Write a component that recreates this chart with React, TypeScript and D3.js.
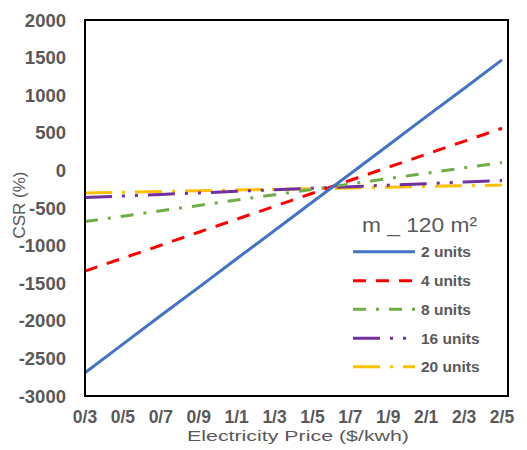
import React from "react";
import * as d3 from "d3";

// Electricity price categories (as labelled on the axis)
const priceLabels = ["0/3", "0/5", "0/7", "0/9", "1/1", "1/3", "1/5", "1/7", "1/9", "2/1", "2/3", "2/5"];

// CSR (%) for each number of units
const units2 = [-2690, -2310, -1930, -1555, -1175, -800, -420, -45, 335, 715, 1090, 1470];
const units4 = [-1340, -1167, -995, -822, -649, -477, -304, -131, 42, 214, 387, 560];
const units8 = [-680, -609, -537, -466, -394, -323, -252, -180, -109, -38, 34, 105];
const units16 = [-360, -340, -319, -299, -278, -258, -238, -217, -196, -176, -155, -135];
const units20 = [-300, -290, -281, -271, -262, -252, -243, -233, -224, -214, -205, -195];

const yTicks = [2000, 1500, 1000, 500, 0, -500, -1000, -1500, -2000, -2500, -3000];

const seriesNames = ["2 units", "4 units", "8 units", "16 units", "20 units"];
const seriesValues = [units2, units4, units8, units16, units20];
const seriesColors = ["#4472C4", "#FF0000", "#70AD47", "#7030A0", "#FFC000"];
const seriesDashes = ["", "13,10", "13,10,3,10", "27,10,3,10,3,10", "27,10,3,10"];

const W = 527;
const H = 450;
const plot = { left: 85, right: 508, top: 20, bottom: 396 };
const textColor = "#595959";
const font = "'Liberation Sans', Arial, sans-serif";

export default function App() {
  const x = d3.scalePoint<string>().domain(priceLabels).range([plot.left, 502]);
  const y = d3.scaleLinear().domain([-3000, 2000]).range([plot.bottom, plot.top]);

  const line = d3
    .line<number>()
    .x((_, i) => x(priceLabels[i]) as number)
    .y((d) => y(d));

  const order = [4, 3, 2, 1, 0];
  const legendX = 353;
  const legendYs = [251.7, 280.7, 309.3, 338.3, 366.7];

  return (
    <svg width={W} height={H} style={{ position: "absolute", left: 0, top: 0 }} fontFamily={font}>
      <rect x={0} y={0} width={W} height={H} fill="#fff" />

      {/* series lines */}
      {order.map((s) => (
        <path
          key={seriesNames[s]}
          d={line(seriesValues[s]) as string}
          fill="none"
          stroke={seriesColors[s]}
          strokeWidth={3}
          strokeDasharray={seriesDashes[s] || undefined}
        />
      ))}

      {/* plot frame */}
      <rect
        x={plot.left}
        y={plot.top}
        width={plot.right - plot.left}
        height={plot.bottom - plot.top}
        fill="none"
        stroke="#000"
        strokeWidth={2}
      />

      {/* y tick labels */}
      {yTicks.map((t) => (
        <text
          key={t}
          x={66}
          y={y(t)}
          dy="0.36em"
          textAnchor="end"
          fontSize={18.5}
          fontWeight="bold"
          fill={textColor}
        >
          {t}
        </text>
      ))}

      {/* x tick labels */}
      {priceLabels.map((p) => (
        <text
          key={p}
          x={x(p) as number}
          y={422.5}
          textAnchor="middle"
          fontSize={17.5}
          fontWeight="bold"
          fill={textColor}
        >
          {p}
        </text>
      ))}

      {/* axis titles */}
      <text
        x={298}
        y={440.5}
        textAnchor="middle"
        fontSize={15.5}
        fill={textColor}
        textLength={222}
        lengthAdjust="spacingAndGlyphs"
      >
        Electricity Price ($/kwh)
      </text>
      <text
        transform="translate(25,205) rotate(-90)"
        textAnchor="middle"
        fontSize={17}
        fill={textColor}
      >
        CSR (%)
      </text>

      {/* legend */}
      <text
        x={362}
        y={231.5}
        fontSize={20}
        fill={textColor}
        textLength={115}
        lengthAdjust="spacingAndGlyphs"
      >
        m _ 120 m²
      </text>
      {seriesNames.map((name, s) => (
        <g key={name}>
          <line
            x1={legendX}
            x2={415}
            y1={legendYs[s]}
            y2={legendYs[s]}
            stroke={seriesColors[s]}
            strokeWidth={3}
            strokeDasharray={seriesDashes[s] || undefined}
          />
          <text
            x={421}
            y={legendYs[s]}
            dy="0.36em"
            fontSize={15.5}
            fontWeight="bold"
            fill={textColor}
          >
            {name}
          </text>
        </g>
      ))}
    </svg>
  );
}
